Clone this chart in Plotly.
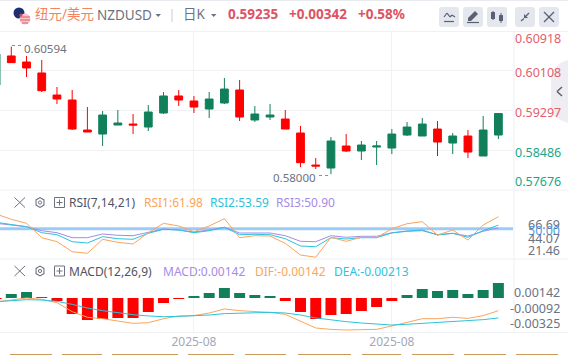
import plotly.graph_objects as go

W, H = 568, 355

# ---------- data ----------
candle_index = list(range(-1, 33))
opens = [.59817,.60409,.60286,.60062,.59613,.59511,.58899,.58817,.59001,.59021,.58960,.59246,.59593,.59491,.59327,.59450,.59715,.59103,.59164,.59123,.58838,.58185,.58124,.58573,.58471,.58552,.58532,.58797,.58777,.58919,.58634,.58777,.58369,.58797]
highs = [.60449,.60600,.60409,.60327,.59776,.59715,.59368,.59287,.59307,.59225,.59409,.59674,.59715,.59593,.59674,.59960,.59919,.59389,.59429,.59307,.58981,.58328,.58756,.58817,.58675,.58675,.58919,.59062,.59144,.59083,.58838,.58899,.59185,.59246]
lows = [.59817,.60273,.59980,.59674,.59429,.58899,.58858,.58573,.59001,.58817,.58879,.59225,.59389,.59246,.59144,.59429,.59083,.59062,.59103,.58919,.58144,.58103,.58000,.58450,.58287,.58185,.58409,.58777,.58777,.58369,.58409,.58328,.58369,.58715]
closes = [.60449,.60273,.60164,.59701,.59531,.58919,.58858,.59205,.59042,.59001,.59266,.59593,.59511,.59368,.59531,.59735,.59164,.59225,.59205,.58919,.58233,.58165,.58675,.58471,.58593,.58573,.58817,.58960,.59021,.58654,.58777,.58450,.58899,.59235]

rsi1 = [64.7,59.4,55.4,41.0,37.0,27.0,25.4,39.4,36.4,34.7,46.0,55.4,52.7,47.0,52.7,60.0,41.0,43.0,42.7,35.4,23.7,21.46,41.4,37.4,41.4,41.0,50.0,55.0,57.0,43.7,48.7,38.7,53.7,61.98]
rsi2 = [56.4,54.0,52.0,46.0,44.0,37.0,35.7,42.0,40.0,39.4,45.4,49.4,48.7,46.0,48.0,51.4,44.0,44.4,44.0,40.0,32.7,32.0,41.0,39.7,41.0,41.0,45.7,47.7,48.7,43.7,45.4,41.4,48.0,53.59]
rsi3 = [55.4,53.7,52.0,48.0,46.0,41.0,41.0,44.7,43.4,43.0,46.0,49.7,48.7,46.7,48.7,51.4,45.7,46.0,45.7,43.0,37.4,37.0,43.0,41.4,42.4,42.4,46.0,47.4,48.0,44.0,45.4,42.7,47.4,50.9]
rsi_level = [50.0] * 2

macd_hist = [-.00009,.00038,.00057,.00009,-.00028,-.00152,-.00208,-.00199,-.00189,-.00189,-.00133,-.00047,-.00009,.00019,.00047,.00095,.00047,.00028,.00019,-.00028,-.00133,-.00199,-.00161,-.00152,-.00123,-.00085,-.00028,.00028,.00085,.00066,.00076,.00038,.00076,.00142]
dif = [-.00038,-.00016,0,-.00013,-.00044,-.00129,-.00183,-.00196,-.00221,-.00240,-.00234,-.00196,-.00170,-.00167,-.00142,-.00104,-.00120,-.00129,-.00136,-.00155,-.00218,-.00284,-.00297,-.00303,-.00300,-.00297,-.00265,-.00230,-.00196,-.00196,-.00183,-.00193,-.00167,-.00120]
dea = [-.00035,-.00022,-.00016,-.00019,-.00032,-.00060,-.00095,-.00120,-.00142,-.00158,-.00170,-.00177,-.00174,-.00170,-.00161,-.00148,-.00142,-.00139,-.00136,-.00142,-.00161,-.00189,-.00208,-.00224,-.00237,-.00249,-.00256,-.00249,-.00240,-.00230,-.00221,-.00215,-.00205,-.00189]

price_ticks = [0.60918, 0.60108, 0.59297, 0.58486, 0.57676]
rsi_tick_labels = ["66.69", "50.00", "44.07", "21.46"]
macd_tick_labels = ["0.00142", "-0.00092", "-0.00325"]
date_ticks = [12, 25]
date_labels = ["2025-08", "2025-08"]

# ---------- style ----------
GREEN, RED = "#11805a", "#ff0000"
ORANGE, CYAN, PURPLE = "#f9a55c", "#2cc3dd", "#a58be6"
GREY, LIGHT = "#6d7280", "#f1f2f5"
HEAD_RED, AXIS_RED, AXIS_GREEN = "#dd5364", "#e2606e", "#17a98a"
FONT = "Noto Sans, Noto Sans CJK SC, sans-serif"

PX = lambda x: x / W
PY = lambda y: 1 - y / H
PLOT_R = 513

fig = go.Figure()
fig.add_trace(go.Candlestick(
    x=candle_index, open=opens, high=highs, low=lows, close=closes,
    increasing=dict(line=dict(color=GREEN, width=1), fillcolor=GREEN),
    decreasing=dict(line=dict(color=RED, width=1), fillcolor=RED),
    whiskerwidth=0, xaxis="x", yaxis="y", showlegend=False))

fig.add_trace(go.Scatter(x=[-1, 34], y=rsi_level, mode="lines",
                         line=dict(color="#9bcbf7", width=3), xaxis="x2", yaxis="y2", cliponaxis=False))
for s, c in ((rsi3, PURPLE), (rsi2, CYAN), (rsi1, ORANGE)):
    fig.add_trace(go.Scatter(x=candle_index, y=s, mode="lines",
                             line=dict(color=c, width=1), xaxis="x2", yaxis="y2"))

fig.add_trace(go.Bar(x=candle_index, y=macd_hist, width=0.72,
                     marker=dict(color=[GREEN if v > 0 else RED for v in macd_hist], line=dict(width=0)),
                     xaxis="x3", yaxis="y3"))
fig.add_trace(go.Scatter(x=candle_index, y=dif, mode="lines", line=dict(color=ORANGE, width=1), xaxis="x3", yaxis="y3"))
fig.add_trace(go.Scatter(x=candle_index, y=dea, mode="lines", line=dict(color=CYAN, width=1), xaxis="x3", yaxis="y3"))

xr = [-0.742, 32.96]
xcommon = dict(range=xr, domain=[0, PX(PLOT_R)], tickmode="array", tickvals=date_ticks,
               showgrid=True, gridcolor=LIGHT, gridwidth=1, zeroline=False, showline=False,
               rangeslider=dict(visible=False), ticks="")
shapes, ann = [], []

def text(x, y, s, color=GREY, size=12, anchor="left", bold=False):
    ann.append(dict(x=PX(x), y=PY(y), xref="paper", yref="paper", text=f"<b>{s}</b>" if bold else s,
                    showarrow=False, xanchor=anchor, yanchor="middle", borderpad=0, xshift=0, yshift=0,
                    font=dict(family=FONT, size=size, color=color)))

def line(x0, y0, x1, y1, color=LIGHT, width=1, dash=None):
    shapes.append(dict(type="line", xref="paper", yref="paper", x0=PX(x0), y0=PY(y0), x1=PX(x1), y1=PY(y1),
                       line=dict(color=color, width=width, dash=dash or "solid")))

def rrect(x0, y0, x1, y1, fill, r=3):
    path = (f"M {PX(x0+r)} {PY(y0)} L {PX(x1-r)} {PY(y0)} Q {PX(x1)} {PY(y0)} {PX(x1)} {PY(y0+r)} "
            f"L {PX(x1)} {PY(y1-r)} Q {PX(x1)} {PY(y1)} {PX(x1-r)} {PY(y1)} L {PX(x0+r)} {PY(y1)} "
            f"Q {PX(x0)} {PY(y1)} {PX(x0)} {PY(y1-r)} L {PX(x0)} {PY(y0+r)} Q {PX(x0)} {PY(y0)} {PX(x0+r)} {PY(y0)} Z")
    shapes.append(dict(type="path", xref="paper", yref="paper", path=path, fillcolor=fill, line=dict(width=0)))

def poly(points, fill):
    path = "M " + " L ".join(f"{PX(a)} {PY(b)}" for a, b in points) + " Z"
    shapes.append(dict(type="path", xref="paper", yref="paper", path=path, fillcolor=fill, line=dict(width=0)))

def circle(cx, cy, r, fill, lc=None):
    shapes.append(dict(type="circle", xref="paper", yref="paper", x0=PX(cx-r), x1=PX(cx+r), y0=PY(cy-r), y1=PY(cy+r),
                       fillcolor=fill, line=dict(width=1 if lc else 0, color=lc or fill)))

# frame lines
line(0, 0.5, W, 0.5, "#e9ebf0", 1)
line(0, 31.5, W, 31.5, "#f0f1f4", 1)
line(0, 190, W, 190, "#eef0f3", 1)
line(0, 259, W, 259, "#eef0f3", 1)
line(0, 332.5, W, 332.5, "#eef0f3", 1)
line(514, 31, 514, 333, "#eef0f3", 1)

# header
circle(19, 13, 5.5, "#1c2f72")
circle(25, 19, 5.5, "#f3c9cc")
line(20, 17, 30, 17, "#e25a66", 1)
line(20, 20, 30, 20, "#e25a66", 1)
line(22, 23, 28, 23, "#e25a66", 1)
circle(21, 15, 1.6, "#d94a54")
text(34, 14.5, "纽元/美元", "#f4845f", 13.5)
text(96, 15.5, "NZDUSD", GREY, 13.5)
poly([(155.5, 14), (161, 14), (158.2, 17)], GREY)
line(172, 9, 172, 22, "#c9ccd4", 1)
text(182, 14.5, "日K", GREY, 13.5)
poly([(211, 14), (216.5, 14), (213.7, 17)], GREY)
text(227, 14.5, "0.59235", HEAD_RED, 13.5, bold=True)
text(288, 14.5, "+0.00342", HEAD_RED, 13.5, bold=True)
text(357, 14.5, "+0.58%", HEAD_RED, 13.5, bold=True)

# toolbar
for x0 in (439, 463, 487, 515, 539):
    rrect(x0, 7, x0 + 20, 27, "#e5e7ef")
line(444, 21.5, 454, 21.5, "#5b6070", 1.2)
for a, b in (((444, 17), (447, 13)), ((447, 13), (450, 17)), ((450, 17), (452, 15)), ((452, 15), (455, 17))):
    line(a[0], a[1], b[0], b[1], "#5b6070", 1.2)
poly([(468, 18), (475, 11), (478, 14), (471, 21), (468, 21)], "#5b6070")
line(467, 22.5, 479, 22.5, "#5b6070", 1.2)
line(493, 11, 493, 20, "#5b6070", 1)
rrect(491, 12, 495, 19, "#5b6070", 0.5)
line(501, 13, 501, 23, "#5b6070", 1)
rrect(499, 15, 503, 21, "#5b6070", 0.5)
line(529, 13, 526, 16, "#5b6070", 1.2)
poly([(524, 14), (528, 18), (524, 18)], "#5b6070")
line(521, 21, 524, 18.5, "#5b6070", 1.2)
line(544, 12, 554, 22, "#5b6070", 1.2)
line(554, 12, 544, 22, "#5b6070", 1.2)

# side tab
poly([(568, 60), (560, 63), (553, 70), (551, 76), (551, 109), (553, 115), (560, 120), (568, 123)], "#eeeef2")
line(562, 87, 557, 91.5, "#5b6070", 1.5)
line(557, 91.5, 562, 96, "#5b6070", 1.5)

# price labels
label_y = [39, 72.5, 112, 152, 181]
for v, y in zip(price_ticks, label_y):
    text(562, y, f"{v:.5f}", AXIS_RED if v > 0.59235 else AXIS_GREEN, 12.5, "right")

# extremes
text(23, 48.5, "0.60594", GREY, 11.5)
line(12, 45.5, 22, 45.5, "#8a8f9c", 1, "dot")
text(272, 177, f"{min(lows):.5f}", GREY, 11.5)
line(319, 175.5, 330, 175.5, "#8a8f9c", 1, "dot")

# indicator panels
for y, row in ((202.5, "rsi"), (271, "macd")):
    line(14.5, y - 5, 25, y + 5, "#6d7280", 1)
    line(25, y - 5, 14.5, y + 5, "#6d7280", 1)
    poly([(40, y - 5.5), (44.5, y - 3), (44.5, y + 3), (40, y + 5.5), (35.5, y + 3), (35.5, y - 3)], "#6d7280")
    poly([(40, y - 4.2), (43.4, y - 2.2), (43.4, y + 2.2), (40, y + 4.2), (36.6, y + 2.2), (36.6, y - 2.2)], "#ffffff")
    circle(40, y, 1.6, "#ffffff", "#6d7280")
    shapes.append(dict(type="rect", xref="paper", yref="paper", x0=PX(54.5), x1=PX(64.5), y0=PY(y - 5), y1=PY(y + 5),
                       line=dict(color="#6d7280", width=1), fillcolor="rgba(0,0,0,0)"))
    line(56.5, y, 62.5, y, "#6d7280", 1)
    line(59.5, y - 3, 59.5, y + 3, "#6d7280", 1)

text(68, 202.5, "RSI(7,14,21)", "#4f5462", 12)
text(143, 202.5, "RSI1:61.98", ORANGE, 12)
text(209, 202.5, "RSI2:53.59", CYAN, 12)
text(275, 202.5, "RSI3:50.90", PURPLE, 12)
text(68, 271, "MACD(12,26,9)", "#4f5462", 12)
text(162, 271, "MACD:0.00142", PURPLE, 12)
text(254, 271, "DIF:-0.00142", ORANGE, 12)
text(333, 271, "DEA:-0.00213", CYAN, 12)

for s, y, c in zip(rsi_tick_labels, (224, 230, 238, 250.5), (GREY, "#4f9de8", GREY, GREY)):
    text(561, y, s, c, 12.5, "right")
for s, y in zip(macd_tick_labels, (292.7, 308.3, 323.7)):
    text(561, y, s, GREY, 12.5, "right")

# strip at the lower edge
for a, b in ((10, 52), (62, 102), (112, 178), (188, 234), (245, 286), (298, 351), (362, 401), (412, 454), (464, 506), (516, 558)):
    line(a, 354.5, b, 354.5, "#c99b5c", 1)

fig.update_layout(
    width=W, height=H, margin=dict(l=0, r=0, t=0, b=0), autosize=False,
    paper_bgcolor="white", plot_bgcolor="white", showlegend=False, boxgap=0.27, bargap=0.27,
    xaxis=dict(xcommon, showticklabels=False, anchor="y"),
    xaxis2=dict(xcommon, showticklabels=False, anchor="y2", matches="x"),
    xaxis3=dict(xcommon, showticklabels=True, ticktext=date_labels, anchor="y3", matches="x",
                tickfont=dict(family=FONT, size=12, color="#a5a8b8"), ticklen=0, tickcolor="rgba(0,0,0,0)"),
    yaxis=dict(domain=[PY(190), PY(31)], range=[price_ticks[-1], price_ticks[0]], tickvals=price_ticks[1:-1],
               showticklabels=False, gridcolor=LIGHT, zeroline=False, fixedrange=True, anchor="x"),
    yaxis2=dict(domain=[PY(259), PY(190)], range=[19.7, 88.7], showgrid=False, showticklabels=False,
                zeroline=False, anchor="x2"),
    yaxis3=dict(domain=[PY(332.7), PY(259)], range=[-0.003286, 0.003693], showgrid=False, showticklabels=False,
                zeroline=False, anchor="x3"),
    shapes=shapes, annotations=ann,
)
fig.write_html("out.html", config={"displayModeBar": False},
               post_script="document.body.style.margin='0';document.documentElement.style.overflow='hidden';")
